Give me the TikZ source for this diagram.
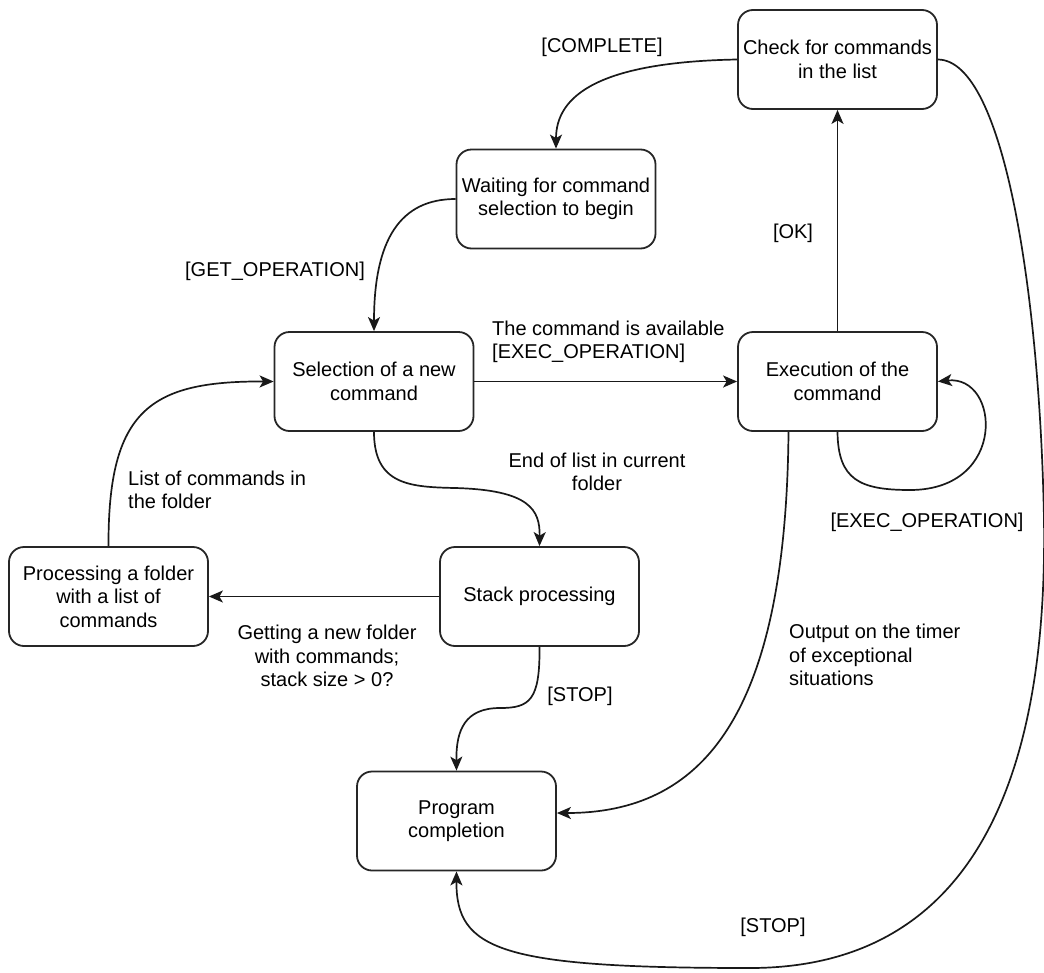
\documentclass[tikz,border=0pt]{standalone}
\usepackage{fontspec}
\setmainfont{Liberation Sans}
\usetikzlibrary{arrows.meta}
\begin{document}
\begin{tikzpicture}[x=1pt,y=-1pt,
  state/.style={draw=black!85, line width=1.8pt, rounded corners=15pt,
    minimum width=199pt, minimum height=99pt, align=center, inner sep=0pt,
    fill=white, font=\fontsize{20}{23.5}\selectfont},
  lbl/.style={inner sep=0pt, font=\fontsize{20}{23.5}\selectfont},
  conn/.style={draw=black!90, line width=1.7pt,
    -{Stealth[length=14pt,width=12pt,inset=3.5pt]}},
]
\useasboundingbox (0,0) rectangle (1044,972);

% states
\node[state] (chk)  at (837.5,59.5)  {Check for commands\\in the list};
\node[state] (wait) at (556,199)     {Waiting for command\\selection to begin};
\node[state] (sel)  at (374,381.5)   {Selection of a new\\command};
\node[state] (exe)  at (837.5,381.5) {Execution of the\\command};
\node[state] (fold) at (108.5,596.5) {Processing a folder\\with a list of\\commands};
\node[state] (stk)  at (539.5,596.5) {Stack processing};
\node[state] (prog) at (456.5,821)   {Program\\completion};

% transitions
\draw[conn] (chk.west) .. controls (600,62) and (556,95) .. (wait.north);
\draw[conn] (wait.west) .. controls (400,199) and (374,240) .. (sel.north);
\draw[conn] (sel.east) -- (exe.west);
\draw[conn] (exe.north) -- (chk.south);
\draw[conn] (exe.south) .. controls (838,480) and (860,490) .. (910,490)
  .. controls (1008,490) and (1000,375) .. (exe.east);
\draw[conn] (sel.south) .. controls (374,485) and (410,487) .. (455,488)
  .. controls (530,490) and (540,510) .. (stk.north);
\draw[conn] (stk.west) -- (fold.east);
\draw[conn] (fold.north) .. controls (108,410) and (150,381) .. (sel.west);
\draw[conn] (stk.south) .. controls (540,700) and (530,708) .. (500,708)
  .. controls (465,708) and (456,730) .. (prog.north);
\draw[conn] ([xshift=-49pt]exe.south) .. controls (786,720) and (700,813)
  .. ([yshift=8pt]prog.east);
\draw[conn] (chk.east) .. controls (1005,60) and (1040,300) .. (1044,520)
  .. controls (1048,800) and (960,968) .. (750,968)
  .. controls (500,968) and (456,950) .. (prog.south);

% transition labels
\node[lbl] (lcomplete) at (602,47) {[COMPLETE]};
\node[lbl] (lget) at (275,271) {[GET\_OPERATION]};
\node[lbl, anchor=west, align=left] (lavail) at (492,342)
  {The command is available\\{}[EXEC\_OPERATION]};
\node[lbl] (lok) at (793,233) {[OK]};
\node[lbl] (lexec) at (927,522) {[EXEC\_OPERATION]};
\node[lbl, align=center] (lend) at (597,472) {End of list in current\\folder};
\node[lbl, anchor=west, align=left] (llist) at (128,490)
  {List of commands in\\the folder};
\node[lbl, align=center] (lget2) at (327,656)
  {Getting a new folder\\with commands;\\stack size > 0?};
\node[lbl] (lstop1) at (580,696) {[STOP]};
\node[lbl, anchor=west, align=left] (lout) at (789,655)
  {Output on the timer\\of exceptional\\situations};
\node[lbl] (lstop2) at (773,927) {[STOP]};
\end{tikzpicture}
\end{document}
